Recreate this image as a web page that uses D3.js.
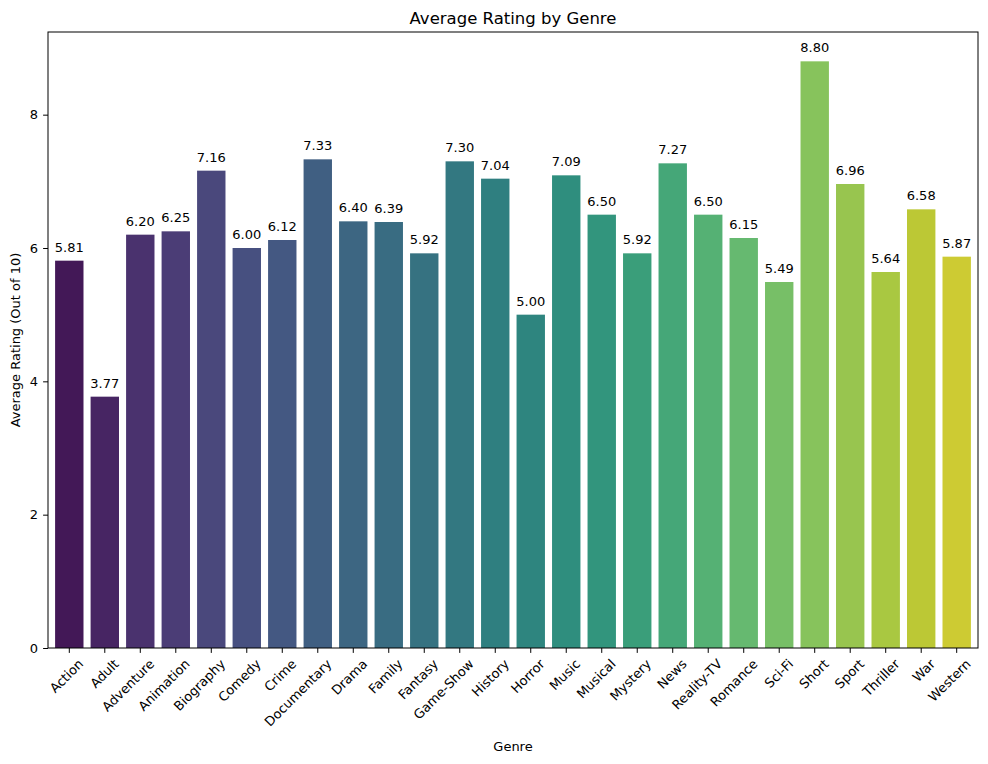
<!DOCTYPE html>
<html><head><meta charset="utf-8">
<script src="https://cdn.jsdelivr.net/npm/d3@7"></script>
<style>body{margin:0;background:#fff}svg{font-family:"DejaVu Sans",sans-serif}</style>
</head><body><svg id="c" width="988" height="764"></svg>
<script>
const genres=["Action","Adult","Adventure","Animation","Biography","Comedy","Crime","Documentary","Drama","Family","Fantasy","Game-Show","History","Horror","Music","Musical","Mystery","News","Reality-TV","Romance","Sci-Fi","Short","Sport","Thriller","War","Western"];
const ratings=[5.81,3.77,6.20,6.25,7.16,6.00,6.12,7.33,6.40,6.39,5.92,7.30,7.04,5.00,7.09,6.50,5.92,7.27,6.50,6.15,5.49,8.80,6.96,5.64,6.58,5.87];
const yTicks=[0,2,4,6,8];
const svg=d3.select("#c");
const m={l:48,r:978,t:32,b:648};
const x=d3.scaleBand().domain(genres).range([m.l,m.r]).padding(0.2);
const y=d3.scaleLinear().domain([0,9.24]).range([m.b,m.t]);
const n=genres.length;
const col=i=>{const c=d3.hsl(d3.interpolateViridis((i+1)/(n+1)));c.s*=0.75;return c.formatHex();};
svg.selectAll("rect.bar").data(genres).join("rect").attr("x",d=>x(d)).attr("width",x.bandwidth())
 .attr("y",(d,i)=>y(ratings[i])).attr("height",(d,i)=>y(0)-y(ratings[i])).attr("fill",(d,i)=>col(i));
svg.selectAll("text.v").data(genres).join("text").attr("x",d=>x(d)+x.bandwidth()/2).attr("y",(d,i)=>y(ratings[i])-9)
 .attr("text-anchor","middle").attr("font-size",13).text((d,i)=>ratings[i].toFixed(2));
const ya=svg.append("g").attr("transform",`translate(${m.l},0)`).call(d3.axisLeft(y).tickValues(yTicks).tickSize(4.9).tickPadding(5).tickFormat(d3.format("d")));
const xa=svg.append("g").attr("transform",`translate(0,${m.b})`).call(d3.axisBottom(x).tickSize(4.9).tickPadding(3));
[ya,xa].forEach(a=>{a.select(".domain").remove();a.selectAll("text").attr("font-size",13).attr("fill","#000").attr("font-family","DejaVu Sans");});
xa.selectAll("text").attr("text-anchor","end").attr("dy","0.35em").attr("transform",function(){return "translate(6,8) rotate(-45)";});
svg.append("rect").attr("x",m.l).attr("y",m.t).attr("width",m.r-m.l).attr("height",m.b-m.t).attr("fill","none").attr("stroke","#000").attr("stroke-width",1);
svg.append("text").attr("x",(m.l+m.r)/2).attr("y",24).attr("text-anchor","middle").attr("font-size",16.5).text("Average Rating by Genre");
svg.append("text").attr("x",(m.l+m.r)/2).attr("y",751).attr("text-anchor","middle").attr("font-size",13).text("Genre");
svg.append("text").attr("transform",`translate(20,${(m.t+m.b)/2}) rotate(-90)`).attr("text-anchor","middle").attr("font-size",13).text("Average Rating (Out of 10)");
</script></body></html>
